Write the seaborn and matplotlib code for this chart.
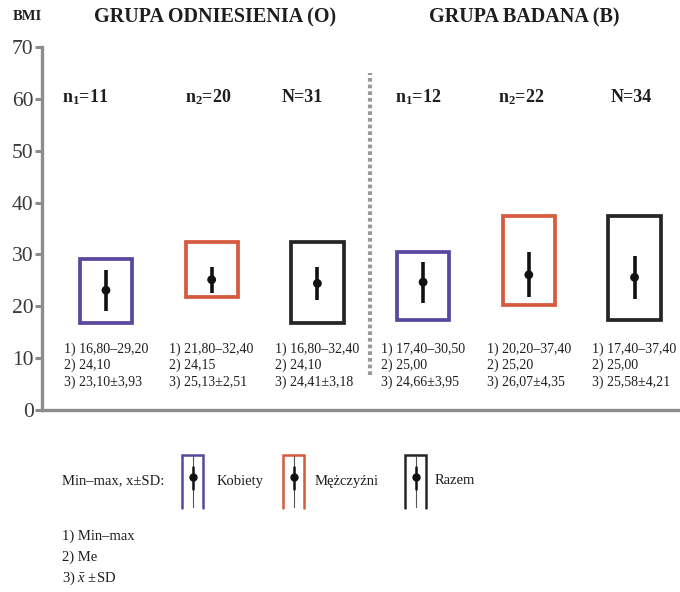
import matplotlib
matplotlib.use("Agg")
import matplotlib.pyplot as plt
from matplotlib.patches import Rectangle
import numpy as np
import pandas as pd
import seaborn as sns

# --- data -------------------------------------------------------------
groups = ["O", "O", "O", "B", "B", "B"]
subsets = ["Kobiety", "Mężczyźni", "Razem", "Kobiety", "Mężczyźni", "Razem"]
n_labels = ["n$_{\\mathbf{1}}$=11", "n$_{\\mathbf{2}}$=20", "N=31",
            "n$_{\\mathbf{1}}$=12", "n$_{\\mathbf{2}}$=22", "N=34"]
bmi_min = [16.80, 21.80, 16.80, 17.40, 20.20, 17.40]
bmi_max = [29.20, 32.40, 32.40, 30.50, 37.40, 37.40]
bmi_median = [24.10, 24.15, 24.10, 25.00, 25.20, 25.00]
bmi_mean = [23.10, 25.13, 24.41, 24.66, 26.07, 25.58]
bmi_sd = [3.93, 2.51, 3.18, 3.95, 4.35, 4.21]
y_ticks = [0, 10, 20, 30, 40, 50, 60, 70]

df = pd.DataFrame({
    "pos": np.arange(len(subsets)),
    "group": groups,
    "subset": subsets,
    "min": bmi_min,
    "max": bmi_max,
    "median": bmi_median,
    "mean": bmi_mean,
    "sd": bmi_sd,
})

# --- style ------------------------------------------------------------
sns.set_theme(style="white")
plt.rcParams["font.family"] = ["Liberation Serif", "DejaVu Serif"]
plt.rcParams["mathtext.fontset"] = "custom"
plt.rcParams["mathtext.rm"] = "Liberation Serif"
plt.rcParams["mathtext.it"] = "Liberation Serif:italic"
plt.rcParams["mathtext.bf"] = "Liberation Serif:bold"

colors = {"Kobiety": "#5a479e", "Mężczyźni": "#d65a3e", "Razem": "#262626"}
axis_grey = "#8c8c8c"
text_col = "#1e1e1e"

W, H = 680, 592
fig = plt.figure(figsize=(W / 100, H / 100), dpi=100)

# main axes: y=0 at 410 px, y=70 at 47 px, left spine at 42 px
ax = fig.add_axes([42 / W, (H - 410) / H, 1 - 42 / W, (410 - 47) / H])
ax.set_xlim(-0.605, 5.43)
ax.set_ylim(0, 70)

half_w = 0.247
for _, r in df.iterrows():
    c = colors[r["subset"]]
    ax.add_patch(Rectangle((r["pos"] - half_w, r["min"]), 2 * half_w,
                           r["max"] - r["min"], fill=False, edgecolor=c,
                           linewidth=2.7, joinstyle="miter", zorder=3))
    ax.vlines(r["pos"], r["mean"] - r["sd"], r["mean"] + r["sd"],
              color="#111111", linewidth=2.6, zorder=4)
    stats = (f"1) {r['min']:.2f}–{r['max']:.2f}\n"
             f"2) {r['median']:.2f}\n"
             f"3) {r['mean']:.2f}±{r['sd']:.2f}").replace(".", ",")
    ax.text(r["pos"], 13.1, stats, ha="center", va="top",
            multialignment="left", fontsize=10, linespacing=1.3,
            color=text_col)

sns.scatterplot(data=df, x="pos", y="mean", color="#111111", s=40,
                edgecolor="none", zorder=5, ax=ax, legend=False)

# sample size labels
n_shift = [-0.2, -0.03, -0.14, -0.05, -0.07, -0.03]
for i, lab in enumerate(n_labels):
    ax.text(i + n_shift[i], 60.3, lab, ha="center", va="center",
            fontsize=13, fontweight="bold", color=text_col)

# dotted divider between the two groups
ax.plot([2.5, 2.5], [6.7, 65.0], color="#9a9a9a", linewidth=3,
        linestyle=(0, (0.9, 0.7)), zorder=2)

ax.set_xticks([])
ax.set_yticks(y_ticks)
ax.set_yticklabels([str(t) for t in y_ticks], fontsize=15.5, color="#3a3a3a")
ax.tick_params(axis="y", direction="out", length=5, width=2.2,
               color=axis_grey, pad=1, left=True)
for side in ("top", "right"):
    ax.spines[side].set_visible(False)
for side in ("left", "bottom"):
    ax.spines[side].set_color(axis_grey)
    ax.spines[side].set_linewidth(2.4)
ax.set_xlabel("")
ax.set_ylabel("")

# titles
fig.text(27 / W, 1 - 16 / H, "BMI", ha="center", va="center",
         fontsize=10.5, fontweight="bold", color=text_col)
fig.text(215 / W, 1 - 17 / H, "GRUPA ODNIESIENIA (O)", ha="center",
         va="center", fontsize=14.5, fontweight="bold", color=text_col)
fig.text(524 / W, 1 - 17 / H, "GRUPA BADANA (B)", ha="center",
         va="center", fontsize=14.5, fontweight="bold", color=text_col)

# legend area in pixel coordinates
lg = fig.add_axes([0, 0, 1, 1], zorder=-1)
lg.set_xlim(0, W)
lg.set_ylim(H, 0)
lg.axis("off")

lg.text(62, 481, "Min–max, x±SD:", ha="left", va="center", fontsize=10.5,
        color=text_col)
legend_items = [("Kobiety", 182, 217), ("Mężczyźni", 283, 315),
                ("Razem", 405, 435)]
for name, x0, xt in legend_items:
    c = colors[name]
    x1 = x0 + 21
    xm = (x0 + x1) / 2
    lg.plot([x0, x0, x1, x1], [508, 455, 455, 508], color=c, linewidth=1.8,
            solid_joinstyle="miter")
    lg.plot([xm, xm], [456, 507], color="#555555", linewidth=0.8)
    lg.plot([xm, xm], [467, 489], color="#111111", linewidth=1.8)
    lg.plot([xm], [477], "o", color="#111111", markersize=5)
    lg.text(xt, 481, name, ha="left", va="center", fontsize=10.5,
            color=text_col)

for y, line in zip([536, 557, 578],
                   ["1) Min–max", "2) Me", "3) $\\bar{x}$ ±SD"]):
    lg.text(62, y, line, ha="left", va="center", fontsize=10.5,
            color=text_col)

fig.savefig("out.png", dpi=100)
